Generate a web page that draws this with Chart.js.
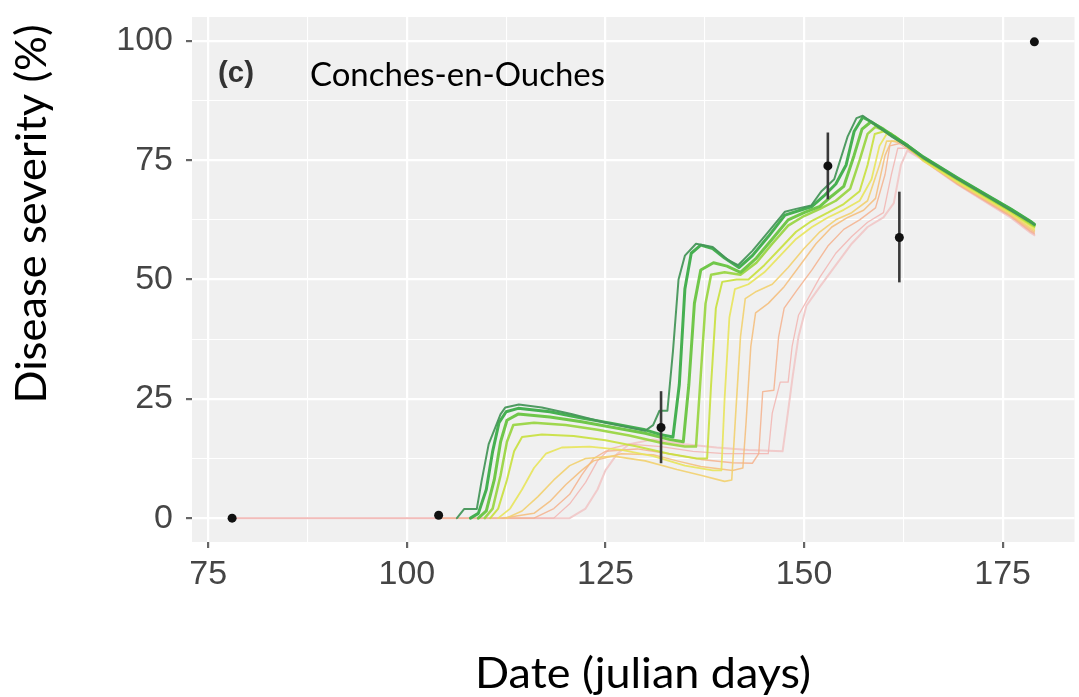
<!DOCTYPE html>
<html><head><meta charset="utf-8">
<script src="https://cdn.jsdelivr.net/npm/chart.js@4.4.1/dist/chart.umd.min.js"></script>
<style>html,body{margin:0;padding:0;background:#fff;}#wrap{width:1079px;height:697px;position:relative;}</style>
</head><body><div id="wrap"><canvas id="c" width="1079" height="697"></canvas></div>
<script>
// ---------- DATA ----------
const xTickValues = [75, 100, 125, 150, 175];
const xMinorValues = [87.5, 112.5, 137.5, 162.5];
const yTickValues = [0, 25, 50, 75, 100];
const yMinorValues = [12.5, 37.5, 62.5, 87.5];

const obsDays = [78, 104, 132, 153, 162, 179];
const obsSev  = [0, 0.6, 19, 73.8, 58.8, 99.8];
const obsLow  = [0, 0.6, 11.5, 66.8, 49.4, 99.8];
const obsHigh = [0, 0.6, 26.6, 80.8, 68.4, 99.8];

const s1Day = [106.3,107.2,108.8,109.4,110.3,111.8,112.4,114.1,117,120.7,125,130,131,131.8,132.8,133.5,134.2,135,136.4,138.5,140.5,141.7,143.5,145.5,147.6,149,150.9,152.2,153.8,155.5,156.6,157.4,158.5,161,163.1,165,169.3,173.5,176,178.5,179];
const s1Sev = [0,1.9,1.9,7.7,15.5,21.8,23.2,23.8,23.2,21.8,20,18.3,19.5,22.5,22.5,35,50,55,57.5,56.8,54,53,56,60,64.2,64.8,65.5,68.5,71,80,83.8,84.3,83,80,77.8,75.5,71.1,67,64.5,62,61.5];

const s2Day = [108,109,110,110.8,111.6,112.5,114,118,122,126,130,132,133.5,134.3,135,135.8,137,138.5,140,141.8,143.5,145.5,147.6,149.5,151,152.5,154,155.3,156.3,157.4,158.5,161,163.1,165,169.3,173.5,176,178.5,179];
const s2Sev = [0,1,6,14,20,22.3,23,22.3,21,19.8,18.5,17.5,17,28,48,55.5,57.2,56.5,54.5,52.5,55,59,63.5,64.5,65.3,67.5,70,74,81,84,83,80.2,78,75.7,71.3,67.2,64.8,62.2,61.6];

const s3Day = [109,110,111,111.8,112.6,114,118,122,126,130,133,134.8,135.5,136.2,137,138.6,140.3,142,144,146,148,150,152,153.5,155,156.3,157.3,158.4,160,163.1,165,169.3,173.5,176,178.5,179];
const s3Sev = [0,1.5,8,16,20.5,21.8,21.2,20.2,19,17.8,16.5,16,28,45,52,53.5,52.8,51.5,54.5,58.5,62.5,64,65.3,67.5,69.5,76,81.5,83,81.5,78,75.6,71.2,67.1,64.7,62.1,61.5];

const s4Day = [109.8,110.8,111.8,112.6,113.4,116,120,124,128,132,135,136.4,137,137.6,138.3,140,142,144,146,148,150,152,154,155.8,157,158,159,161,163.1,165,169.3,173.5,176,178.5,179];
const s4Sev = [0,2,9,16,19.5,20,19.5,18.5,17.3,15.8,15,15,30,45,51,51.5,51,53.5,57.5,61.3,63.3,64.8,66.5,69,75,80.5,82,80.5,77.8,75.4,71,66.9,64.5,61.8,61.2];

const s5Day = [110.5,111.5,112.6,113.5,114.5,117,121,125,129,133,136.5,137.8,138.3,138.9,139.7,141.5,143,145,147,149,151,153,155,157,158,158.9,160,161.5,163.1,165,169.3,173.5,176,178.5,179];
const s5Sev = [0,2,8,14,17,17.5,17.2,16.3,15,13.5,12.5,12.5,28,44,49.5,50,50,53,56.5,60,62.3,64,65.8,68.5,74,80.5,81,80,77.6,75.2,70.8,66.7,64.2,61.5,61];

const s6Day = [111.5,113,114.5,116,117.5,119.5,123,127,131,135,138.5,139.6,140,140.6,141.3,143,145,147,149,151,153,155,157,158.5,159.5,160.4,162,163.5,165,169.3,173.5,176,178.5,179];
const s6Sev = [0,2,6,10.5,13.5,14.8,15,14.3,13,11,10,10,25,42,48,49,51.5,55,58.5,61,63,64.6,66.5,71,78,80.5,79.3,77.5,75,70.5,66.4,64,61.2,60.6];

const s7Day = [112.5,114.5,116.5,118.5,120.5,122.5,126,130,134,137,140,140.9,141.4,142,142.6,144,146,148,150,152,154,156,158,159.5,160.4,162,163.5,165,169.3,173.5,176,178.5,179];
const s7Sev = [0,1.5,4.5,8,11,12.5,13,12,10.2,9,7.7,8,22,38,46,47.5,49,52.5,56.5,60,62.5,64,66.5,74,79,79,77.3,74.8,70.3,66.2,63.7,60.8,60.3];

const s8Day = [112,116,118,120,122,123.5,127,131,134,137,141,142.3,142.7,143.3,143.9,145.5,147.5,149.5,151.5,153.5,155.5,157.5,159,160.2,161,162.5,164,166,169.3,173.5,176,178.5,179];
const s8Sev = [0,1,3.5,7,10,12,13.5,13.3,12,10.8,10,10.5,20,36,43,45,48.5,53,57.5,61,63,64.5,67,76,79,78.5,76.5,74,70.2,66,63.5,60.5,60];

const s9Day = [104,116,118.5,120.5,122,123.5,125,129,133,137,141,143.5,144.3,144.8,146.2,146.8,147.5,149,151,153,155,157,159,160.2,160.8,162,164,166,169.3,173.5,176,178.5,179];
const s9Sev = [0,0,2,5,9,12.5,14,14.5,13.5,12.3,11.6,11.5,13.5,26.5,26.8,38,44,47.5,52,57,60.5,62.5,65,72,78,78.5,76.3,73.8,70,65.8,63.3,60.2,59.7];

const s10Day = [78,118.5,120.5,122.5,124,125.5,128,132,136,140,145.5,146,147,148,148.5,149.3,150.5,152,154,156,158,160,161,161.8,163,165,167,169.3,173.5,176,178.5,179];
const s10Sev = [0,0,3,7.5,12,14.5,15.5,15,14,13.5,13.5,22,28.5,28.5,36,42.5,46,50.5,55.5,59,62,64,72,77.5,77.5,75,72.7,70,65.7,63.2,60,59.5];

const s11Day = [78,120.5,122.5,124,125,126.5,128,131,135,139,143,147.3,147.8,148.6,149.3,150.3,152,154,156,158,160,161.3,162.2,163,165,167,169.3,173.5,176,178.5,179];
const s11Sev = [0,0,2,6,10,13.5,15.5,16.5,15.5,14.8,14.3,14,20,30,38,44.5,48.5,53,57.5,61,63,66,74,77,75,72.6,69.9,65.6,63,59.8,59.3];

// ---------- STYLE ----------
const seriesList = [
  [s1Day, s1Sev], [s2Day, s2Sev], [s3Day, s3Sev], [s4Day, s4Sev], [s5Day, s5Sev], [s6Day, s6Sev],
  [s7Day, s7Sev], [s8Day, s8Sev], [s9Day, s9Sev], [s10Day, s10Sev], [s11Day, s11Sev]
];
const lineStyles = [
  {c:'rgba(70,150,90,0.95)', w:2},
  {c:'rgba(60,172,72,0.95)', w:3},
  {c:'rgba(104,196,64,0.95)', w:3},
  {c:'rgba(150,212,60,0.9)', w:2.5},
  {c:'rgba(200,224,60,0.9)', w:2},
  {c:'rgba(232,228,90,0.9)', w:1.8},
  {c:'rgba(242,208,110,0.9)', w:1.6},
  {c:'rgba(245,188,120,0.85)', w:1.5},
  {c:'rgba(244,176,140,0.85)', w:1.4},
  {c:'rgba(242,180,176,0.85)', w:1.3},
  {c:'rgba(240,200,200,0.95)', w:2}
];

const toXY = (xs, ys) => xs.map((x, i) => ({x: x, y: ys[i]}));

const datasets = [{
  label: 'obs',
  data: toXY(obsDays, obsSev),
  showLine: false,
  pointRadius: 4.5,
  pointBackgroundColor: '#111',
  pointBorderWidth: 0
}];
seriesList.forEach((s, i) => {
  datasets.push({
    label: 'sim' + (i + 1),
    data: toXY(s[0], s[1]),
    showLine: true,
    borderColor: lineStyles[i].c,
    borderWidth: lineStyles[i].w,
    pointRadius: 0,
    tension: 0,
    borderJoinStyle: 'round',
    borderCapStyle: 'round'
  });
});

const isMajorX = v => xTickValues.includes(v);
const isMajorY = v => yTickValues.includes(v);

const panelPlugin = {
  id: 'panel',
  beforeDraw(chart) {
    const {ctx, chartArea: a} = chart;
    ctx.save();
    ctx.fillStyle = '#F0F0F0';
    ctx.fillRect(a.left, a.top, a.right - a.left, a.bottom - a.top);
    ctx.restore();
  },
  beforeDatasetDraw(chart, args) {
    if (args.index !== 0) return;
    const {ctx, scales: {x, y}} = chart;
    ctx.save();
    ctx.strokeStyle = '#3a3a3a';
    ctx.lineWidth = 2.6;
    obsDays.forEach((d, i) => {
      if (obsHigh[i] === obsLow[i]) return;
      const px = x.getPixelForValue(d);
      ctx.beginPath();
      ctx.moveTo(px, y.getPixelForValue(obsLow[i]));
      ctx.lineTo(px, y.getPixelForValue(obsHigh[i]));
      ctx.stroke();
    });
    ctx.restore();
  },
  afterDraw(chart) {
    const {ctx} = chart;
    const txt = (text, x, y, font, color, targetW, rot, align) => {
      ctx.save();
      ctx.font = font;
      const w = ctx.measureText(text).width;
      const s = targetW ? targetW / w : 1;
      ctx.translate(x, y);
      if (rot) ctx.rotate(rot);
      ctx.scale(s, 1);
      ctx.textAlign = align || 'center';
      ctx.textBaseline = 'alphabetic';
      ctx.fillStyle = color;
      ctx.fillText(text, 0, 0);
      ctx.restore();
    };
    txt('Disease severity (%)', 46, 214, '42px Lato', '#000', 379, -Math.PI / 2);
    txt('Date (julian days)', 643, 688, '42px Lato', '#000', 336);
    txt('(c)', 236, 82, 'bold 29px "Liberation Sans"', '#333', 36);
    txt('Conches-en-Ouches', 310, 85.5, '33px Lato', '#000', 295, 0, 'left');
  }
};

new Chart(document.getElementById('c'), {
  type: 'scatter',
  data: {datasets},
  plugins: [panelPlugin],
  options: {
    responsive: false,
    animation: false,
    devicePixelRatio: 1,
    layout: {padding: {top: 17, right: 3, bottom: 0, left: 0}},
    plugins: {legend: {display: false}, tooltip: {enabled: false}, title: {display: false}},
    scales: {
      x: {
        type: 'linear', min: 72.95, max: 184.05,
        afterBuildTicks: s => { s.ticks = xTickValues.concat(xMinorValues).sort((a, b) => a - b).map(v => ({value: v})); },
        afterFit: s => { s.height = 155; s.paddingLeft = 0; s.paddingRight = 0; },
        ticks: {autoSkip: false, maxRotation: 0, padding: 6, color: '#454545',
          font: {family: 'Liberation Sans', size: 34},
          callback: v => isMajorX(v) ? String(v) : ''},
        grid: {color: '#ffffff', lineWidth: c => isMajorX(c.tick.value) ? 2.2 : 1.1,
          tickColor: c => isMajorX(c.tick.value) ? '#666' : 'rgba(0,0,0,0)', tickLength: 6, drawTicks: true},
        border: {display: false}
      },
      y: {
        type: 'linear', min: -5, max: 105,
        afterBuildTicks: s => { s.ticks = yTickValues.concat(yMinorValues).sort((a, b) => a - b).map(v => ({value: v})); },
        afterFit: s => { s.width = 192; s.paddingTop = 0; s.paddingBottom = 0; },
        ticks: {autoSkip: false, padding: 13, color: '#454545',
          font: {family: 'Liberation Sans', size: 34},
          callback: v => isMajorY(v) ? String(v) : ''},
        grid: {color: '#ffffff', lineWidth: c => isMajorY(c.tick.value) ? 2.2 : 1.1,
          tickColor: c => isMajorY(c.tick.value) ? '#666' : 'rgba(0,0,0,0)', tickLength: 6, drawTicks: true},
        border: {display: false}
      }
    }
  }
});
</script>
</body></html>
